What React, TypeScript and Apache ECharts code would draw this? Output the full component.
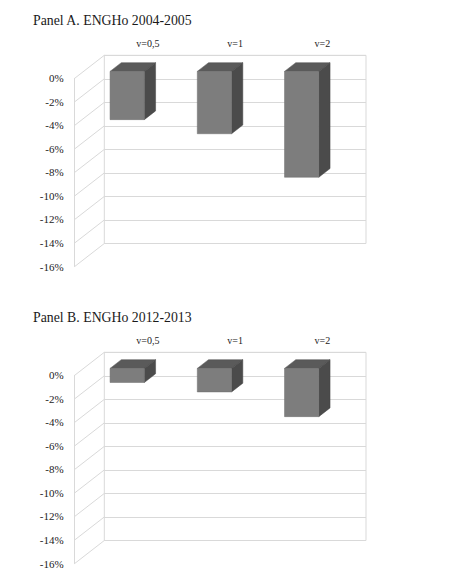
import React, { useEffect, useRef } from 'react';
import * as echarts from 'echarts';

// Datos
const categories = ['v=0,5', 'v=1', 'v=2'];
const titleA = 'Panel A. ENGHo 2004-2005';
const titleB = 'Panel B. ENGHo 2012-2013';
const valuesA = [-4.1, -5.3, -9.0];
const valuesB = [-1.2, -2.0, -4.1];
const yTicks = [0, -2, -4, -6, -8, -10, -12, -14, -16];

const FONT = "'Liberation Serif', 'DejaVu Serif', serif";
const WALL = '#d9d9d9';

// geometría de la perspectiva (pared trasera vs eje frontal)
const BACK_LEFT = 104.3;
const BACK_W = 261.7;
const FRONT_LEFT = 74.7;
const DEPTH_X = BACK_LEFT - FRONT_LEFT;
const DEPTH_Y = 23;
const WALL_H = 188.2;
const PANEL_TOPS = [55.3, 352.3];

const FRONT_F = 0.7;
const BACK_F = 0.32;
const BAR_W = 0.393;

const App: React.FC = () => {
  const chartRef = useRef<HTMLDivElement>(null);

  useEffect(() => {
    if (!chartRef.current) return;
    const chart = echarts.init(chartRef.current, undefined, { renderer: 'svg' });

    const panels = [
      { title: titleA, values: valuesA },
      { title: titleB, values: valuesB }
    ];

    const grids: any[] = [];
    const xAxes: any[] = [];
    const yAxes: any[] = [];
    const series: any[] = [];
    const titles: any[] = [];

    panels.forEach((p, i) => {
      const top = PANEL_TOPS[i];
      const back = 2 * i;
      const front = 2 * i + 1;

      titles.push({
        text: p.title,
        left: 28,
        top: top - 47,
        textStyle: { fontFamily: FONT, fontSize: 13.8, fontWeight: 'normal', color: '#1a1a1a' }
      });

      // pared trasera
      grids.push({
        left: BACK_LEFT,
        top,
        width: BACK_W,
        height: WALL_H,
        show: true,
        borderColor: WALL,
        borderWidth: 1,
        backgroundColor: 'transparent'
      });
      // eje frontal
      grids.push({
        left: FRONT_LEFT,
        top: top + DEPTH_Y,
        width: BACK_W,
        height: WALL_H
      });

      xAxes.push({
        type: 'category',
        gridIndex: back,
        position: 'top',
        data: categories,
        axisLine: { show: false },
        axisTick: { show: false },
        axisLabel: { margin: 7, fontFamily: FONT, fontSize: 10, color: '#222' }
      });
      xAxes.push({ type: 'value', gridIndex: front, min: 0, max: 1, show: false });

      yAxes.push({
        type: 'value',
        gridIndex: back,
        min: -16,
        max: 0,
        interval: 2,
        axisLine: { show: false },
        axisTick: { show: false },
        axisLabel: { show: false },
        splitLine: { show: true, lineStyle: { color: WALL, width: 1 } }
      });
      yAxes.push({
        type: 'value',
        gridIndex: front,
        min: -16,
        max: 0,
        interval: 2,
        axisLine: { show: true, lineStyle: { color: WALL, width: 1 } },
        axisTick: { show: false },
        splitLine: { show: false },
        axisLabel: {
          margin: 11,
          fontFamily: FONT,
          fontSize: 11,
          color: '#222',
          formatter: '{value}%'
        }
      });

      // diagonales de la pared izquierda
      series.push({
        type: 'custom',
        xAxisIndex: front,
        yAxisIndex: front,
        data: yTicks.map((v) => [0, v]),
        silent: true,
        renderItem: (_params: any, api: any) => {
          const pt = api.coord([0, api.value(1)]);
          return {
            type: 'line',
            shape: { x1: pt[0], y1: pt[1], x2: pt[0] + DEPTH_X, y2: pt[1] - DEPTH_Y },
            style: { stroke: WALL, lineWidth: 1 }
          };
        }
      });

      // barras 3D
      series.push({
        type: 'custom',
        xAxisIndex: back,
        yAxisIndex: back,
        data: p.values.map((v, k) => [k, v]),
        renderItem: (_params: any, api: any) => {
          const idx = api.value(0);
          const val = api.value(1);
          const t = api.coord([idx, 0]);
          const b = api.coord([idx, val]);
          const band = api.size([1, 0])[0];
          const w = band * BAR_W;
          const fx = -DEPTH_X * FRONT_F;
          const fy = DEPTH_Y * FRONT_F;
          const ddx = DEPTH_X * (FRONT_F - BACK_F);
          const ddy = DEPTH_Y * (FRONT_F - BACK_F);
          const x0 = t[0] + fx - w / 2;
          const x1 = x0 + w;
          const yT = t[1] + fy;
          const yB = b[1] + fy;
          return {
            type: 'group',
            children: [
              {
                type: 'polygon',
                shape: { points: [[x0, yT], [x1, yT], [x1 + ddx, yT - ddy], [x0 + ddx, yT - ddy]] },
                style: { fill: '#5a5a5a', stroke: '#555', lineWidth: 0.5 }
              },
              {
                type: 'polygon',
                shape: { points: [[x1, yT], [x1 + ddx, yT - ddy], [x1 + ddx, yB - ddy], [x1, yB]] },
                style: { fill: '#4b4b4b', stroke: '#474747', lineWidth: 0.5 }
              },
              {
                type: 'rect',
                shape: { x: x0, y: yT, width: w, height: yB - yT },
                style: { fill: '#7d7d7d', stroke: '#6e6e6e', lineWidth: 0.5 }
              }
            ]
          };
        }
      });
    });

    const option: echarts.EChartsOption = {
      animation: false,
      backgroundColor: '#fff',
      title: titles,
      grid: grids,
      xAxis: xAxes,
      yAxis: yAxes,
      series
    };

    chart.setOption(option);

    return () => {
      chart.dispose();
    };
  }, []);

  return (
    <div
      ref={chartRef}
      style={{ position: 'fixed', left: 0, top: 0, width: '450px', height: '584px', backgroundColor: '#fff' }}
    />
  );
};

export default App;
